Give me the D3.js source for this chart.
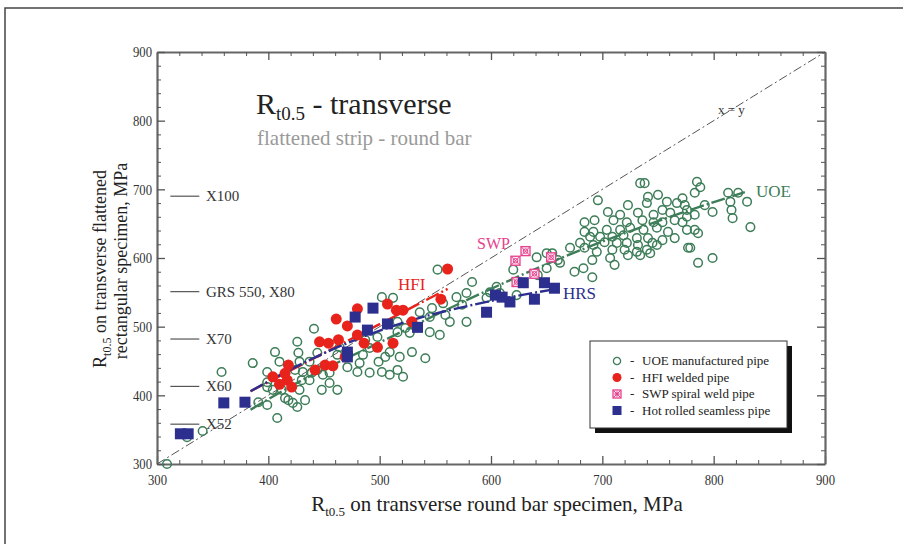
<!DOCTYPE html>
<html>
<head>
<meta charset="utf-8">
<script src="https://cdn.jsdelivr.net/npm/d3@7"></script>
<style>
  body { margin: 0; background: #fff; }
  text { font-family: "Liberation Serif", "Times New Roman", serif; }
</style>
</head>
<body>
<svg id="chart" width="903" height="544"></svg>
<script>
// values (MPa)
var majorTicks = [300, 400, 500, 600, 700, 800, 900];
var gradeValues = [690, 551, 482, 413, 358];
var gradeLabels = ["X100", "GRS 550, X80", "X70", "X60", "X52"];
var legendLabels = ["UOE manufactured pipe", "HFI welded pipe", "SWP spiral weld pipe", "Hot rolled seamless pipe"];

var uoePoints = [
  [309,300],[327,339],[341,348],[358,434],[386,447],[399,434],[406,463],[410,449],[426,478],[427,462],
  [428,449],[437,449],[444,462],[424,437],[431,434],[439,433],[430,422],[437,422],[449,430],[455,433],
  [455,418],[462,408],[448,408],[428,408],[399,412],[404,408],[391,390],[399,386],[418,393],[426,383],
  [433,393],[408,367],[482,447],[480,434],[491,433],[485,459],[491,469],[499,449],[505,456],[509,463],
  [502,434],[509,430],[516,437],[498,485],[462,459],[464,470],[487,481],[471,441],[444,437],[441,497],
  [502,543],[512,542],[415,396],[422,389],[412,408],[399,419],
  [552,583],[583,565],[578,549],[569,543],[574,532],[605,558],[599,550],[608,549],[596,542],[557,534],
  [547,527],[536,521],[545,514],[563,507],[578,507],[559,517],[516,507],[523,498],[527,491],[516,492],
  [545,492],[554,488],[529,463],[541,454],[518,456],[521,427],[620,583],[641,601],[650,607],[660,597],
  [642,575],[623,546],[655,607],[662,593],[650,585],[671,615],[675,580],[683,585],[691,572],[691,597],
  [684,615],
  [734,709],[738,709],[696,684],[741,689],[750,692],[705,667],[723,677],[740,680],[758,682],[767,680],
  [776,670],[732,666],[746,663],[754,670],[761,666],[716,663],[684,652],[693,655],[710,655],[722,652],
  [736,655],[746,652],[754,652],[765,655],[772,652],[684,638],[692,638],[704,641],[716,641],[725,644],
  [737,641],[749,644],[759,638],[776,641],[689,631],[698,631],[709,631],[719,633],[731,629],[741,629],
  [754,626],[765,629],[702,623],[713,622],[722,622],[732,619],[745,622],[680,622],[692,619],[709,612],
  [720,612],[731,609],[740,612],[749,619],[695,609],[707,600],[723,604],[734,604],[743,607],[777,615],
  [711,590],[785,711],[788,703],[783,695],[772,687],[774,677],[776,660],[783,663],[792,677],[799,667],
  [813,695],[822,695],[815,682],[830,682],[816,670],[817,658],[833,645],[783,641],[786,636],[779,615],
  [786,593],[799,600]
];
var hfiPoints = [
  [561,584],[555,540],[507,533],[515,524],[521,524],[480,526],[461,511],[471,501],[480,488],[463,481],
  [446,478],[454,476],[486,476],[498,470],[512,476],[442,437],[451,444],[458,443],[469,456],[418,444],
  [415,432],[404,427],[417,422],[421,412],[410,416],[529,507]
];
var swpPoints = [[622,596],[631,610],[654,601],[639,577],[623,565]];
var hrsPoints = [
  [321,344],[328,344],[360,389],[379,390],[478,514],[494,527],[489,495],[507,504],[471,463],[471,456],
  [534,499],[596,521],[604,546],[610,543],[617,536],[629,564],[648,564],[657,556],[639,540]
];

var uoeTrend = [[384,379],[420,413],[500,477],[580,540],[660,598],[740,648],[828,696]];
var hfiTrend = [[384,406],[561,555]];
var hrsTrend = [[384,406],[430,446],[480,482],[530,510],[593,535],[659,555]];
var diagonal = [[300,300],[900,900]];

var green = "#3d7d58", red = "#e8231c", blue = "#2c2f8e", pink = "#e6418c";

var svg = d3.select("#chart");

// outer frame of the figure
svg.append("rect")
    .attr("x", 5).attr("y", 8)
    .attr("width", 1000).attr("height", 1000)
    .attr("fill", "none").attr("stroke", "#444").attr("stroke-width", 1.5);

var x = d3.scaleLinear().domain([300, 900]).range([157, 825]);
var y = d3.scaleLinear().domain([300, 900]).range([464, 52]);

var minorTicks = d3.range(300, 901, 20).filter(function(d) { return d % 100 != 0; });

function drawAxis(gen, tr, labels) {
    var g = svg.append("g").attr("transform", tr);
    g.call(gen.tickValues(majorTicks).tickSize(-8).tickSizeOuter(0)
        .tickFormat(labels ? d3.format("d") : ""));
    g.select(".domain").attr("stroke", "#666").attr("stroke-width", 2.2);
    g.selectAll(".tick line").attr("stroke", "#555").attr("stroke-width", 1.3);
    g.selectAll("text").style("font-size", "15px").attr("fill", "#333")
        .attr("textLength", 19).attr("lengthAdjust", "spacingAndGlyphs");
    var m = svg.append("g").attr("transform", tr);
    m.call(gen.tickValues(minorTicks).tickSize(-4).tickFormat(""));
    m.select(".domain").remove();
    m.selectAll(".tick line").attr("stroke", "#555").attr("stroke-width", 1);
    return g;
}
drawAxis(d3.axisBottom(x).tickPadding(10), "translate(0,464)", true);
drawAxis(d3.axisTop(x), "translate(0,52)", false);
drawAxis(d3.axisLeft(y).tickPadding(5), "translate(157,0)", true);
drawAxis(d3.axisRight(y), "translate(825,0)", false);

// x = y reference
var line = d3.line().x(function(d) { return x(d[0]); }).y(function(d) { return y(d[1]); });
svg.append("path").datum(diagonal).attr("d", line)
    .attr("fill", "none").attr("stroke", "#555").attr("stroke-width", 1)
    .attr("stroke-dasharray", "9,3,2,3");

// pipe grade markers
gradeValues.forEach(function(v, i) {
    svg.append("line")
        .attr("x1", x(312)).attr("x2", x(338))
        .attr("y1", y(v)).attr("y2", y(v))
        .attr("stroke", "#555").attr("stroke-width", 1.2);
    svg.append("text")
        .attr("x", x(344)).attr("y", y(v) + 5)
        .style("font-size", "15px").attr("fill", "#333")
        .text(gradeLabels[i]);
});

// UOE points
svg.append("g").selectAll("circle").data(uoePoints).enter().append("circle")
    .attr("cx", function(d) { return x(d[0]); })
    .attr("cy", function(d) { return y(d[1]); })
    .attr("r", 4.3)
    .attr("fill", "none").attr("stroke", green).attr("stroke-width", 1.5);

// trend lines
var curve = d3.line().curve(d3.curveMonotoneX)
    .x(function(d) { return x(d[0]); }).y(function(d) { return y(d[1]); });
[[uoeTrend, green], [hfiTrend, red], [hrsTrend, blue]].forEach(function(t) {
    svg.append("path").datum(t[0]).attr("d", curve)
        .attr("fill", "none").attr("stroke", t[1]).attr("stroke-width", 2.4)
        .attr("stroke-dasharray", "14,3,2,3");
});

// HFI
svg.append("g").selectAll("circle").data(hfiPoints).enter().append("circle")
    .attr("cx", function(d) { return x(d[0]); })
    .attr("cy", function(d) { return y(d[1]); })
    .attr("r", 5.5).attr("fill", red);

// SWP
function swpMark(g, s) {
    g.append("rect").attr("x", -s).attr("y", -s).attr("width", 2 * s).attr("height", 2 * s)
        .attr("fill", "#fde6f0").attr("stroke", pink).attr("stroke-width", 1.3);
    g.append("path").attr("d", "M" + (-s) + "," + (-s) + "L" + s + "," + s + "M" + s + "," + (-s) + "L" + (-s) + "," + s)
        .attr("stroke", pink).attr("stroke-width", 1);
    g.append("circle").attr("r", s * 0.5).attr("fill", "none").attr("stroke", pink).attr("stroke-width", 1);
}
svg.append("g").selectAll("g").data(swpPoints).enter().append("g")
    .attr("transform", function(d) { return "translate(" + x(d[0]) + "," + y(d[1]) + ")"; })
    .each(function() { swpMark(d3.select(this), 4.5); });

// HRS
svg.append("g").selectAll("rect").data(hrsPoints).enter().append("rect")
    .attr("x", function(d) { return x(d[0]) - 5.5; })
    .attr("y", function(d) { return y(d[1]) - 5.5; })
    .attr("width", 11).attr("height", 11).attr("fill", blue);

// series labels
function label(txt, px, py, col, size) {
    svg.append("text").attr("x", px).attr("y", py)
        .style("font-size", size + "px").attr("fill", col).text(txt);
}
label("UOE", 756, 197, green, 17);
label("HRS", 563, 299, blue, 17);
label("SWP", 477, 249, pink, 16);
label("HFI", 398, 290, red, 17);
label("x = y", 718, 114, "#333", 13);

// title
var title = svg.append("text").attr("x", 256).attr("y", 114)
    .style("font-size", "30px").attr("fill", "#222");
title.append("tspan").text("R");
title.append("tspan").attr("dy", 6).style("font-size", "19px").text("t0.5");
title.append("tspan").attr("dy", -6).text(" - transverse");
svg.append("text").attr("x", 257).attr("y", 145)
    .style("font-size", "21px").attr("fill", "#9a9a9a")
    .text("flattened strip - round bar");

// axis titles
var xt = svg.append("text").attr("x", 497).attr("y", 511)
    .attr("text-anchor", "middle").style("font-size", "21px").attr("fill", "#222");
xt.append("tspan").text("R");
xt.append("tspan").attr("dy", 5).style("font-size", "13px").text("t0.5");
xt.append("tspan").attr("dy", -5).text(" on transverse round bar specimen,  MPa");

var yt = svg.append("text").attr("transform", "translate(106,269) rotate(-90)")
    .attr("text-anchor", "middle").style("font-size", "18px").attr("fill", "#222");
yt.append("tspan").text("R");
yt.append("tspan").attr("dy", 5).style("font-size", "12px").text("t0.5");
yt.append("tspan").attr("dy", -5).text(" on transverse flattened");
svg.append("text").attr("transform", "translate(127,261) rotate(-90)")
    .attr("text-anchor", "middle").style("font-size", "18px").attr("fill", "#222")
    .text("rectangular specimen, MPa");

// legend
var lg = svg.append("g").attr("transform", "translate(590,341)");
lg.append("rect").attr("x", 5).attr("y", 5).attr("width", 197).attr("height", 87).attr("fill", "#111");
lg.append("rect").attr("width", 197).attr("height", 87).attr("fill", "#fff")
    .attr("stroke", "#333").attr("stroke-width", 1);
legendLabels.forEach(function(t, i) {
    var ry = 20 + i * 16.5;
    var s = lg.append("g").attr("transform", "translate(27," + ry + ")");
    if (i == 0) s.append("circle").attr("r", 3.6).attr("fill", "none").attr("stroke", green).attr("stroke-width", 1.3);
    if (i == 1) s.append("circle").attr("r", 4.5).attr("fill", red);
    if (i == 2) swpMark(s, 4);
    if (i == 3) s.append("rect").attr("x", -4.5).attr("y", -4.5).attr("width", 9).attr("height", 9).attr("fill", blue);
    lg.append("text").attr("x", 40).attr("y", ry + 4).style("font-size", "13px").attr("fill", "#222").text("-");
    lg.append("text").attr("x", 52).attr("y", ry + 4).style("font-size", "13px").attr("fill", "#222").text(t);
});
</script>
</body>
</html>
